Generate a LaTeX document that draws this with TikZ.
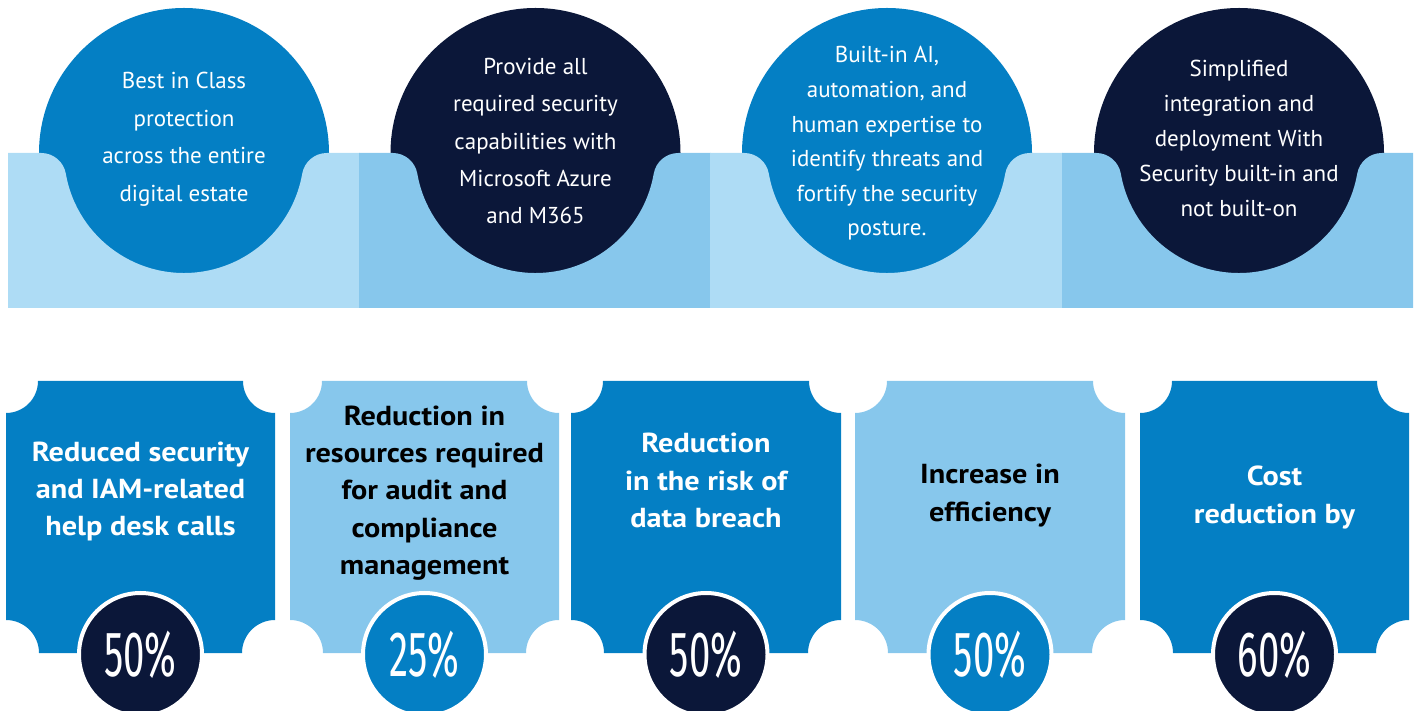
\documentclass[tikz,border=0pt]{standalone}
\usepackage{fontspec}
\setmainfont{PT Sans}
\newfontfamily\pctfont{Fira Sans}
\newfontfamily\boxfont[FakeStretch=1.1]{PT Sans Bold}
\definecolor{cblue}{HTML}{047FC4}
\definecolor{cnavy}{HTML}{0B1739}
\definecolor{clight}{HTML}{AEDCF5}
\definecolor{cmid}{HTML}{87C7EC}
\newcommand\topband[4]{\fill[#4] (#1,402) -- (#1,557) -- ({#3-142.8},557)
  arc[start angle=90,end angle=9.93,radius=25]
  arc[start angle=189.93,end angle=350.07,radius=120]
  arc[start angle=170.07,end angle=90,radius=25] -- (#2,557) -- (#2,402) -- cycle;}
\newcommand\statbox[3]{\fill[#3] (#1,297) -- (#1,90)
  arc[start angle=90,end angle=0,radius=33] -- ({#2-33},57)
  arc[start angle=180,end angle=90,radius=33] -- (#2,297)
  arc[start angle=270,end angle=180,radius=32] -- ({#1+32},329)
  arc[start angle=0,end angle=-90,radius=32] -- cycle;}
\begin{document}
\begin{tikzpicture}[x=1pt,y=1pt,
  topdisc/.style={circle,minimum size=290pt,inner sep=0pt,draw=none},
  toptext/.style={text=white,align=center,font=\fontsize{23}{37.5}\selectfont},
  boxtext/.style={align=center,font=\boxfont\fontsize{27.5}{37.3}\selectfont},
  pctdisc/.style={circle,minimum size=123pt,inner sep=0pt,draw=white,line width=4pt},
  pcttext/.style={text=white,font=\pctfont\fontsize{64}{64}\selectfont}]
\useasboundingbox (0,0) rectangle (1419,710);
% top discs
\node[topdisc,fill=cblue] (d1) at (184,557) {};
\node[topdisc,fill=cnavy] (d2) at (535.5,557) {};
\node[topdisc,fill=cblue] (d3) at (887,557) {};
\node[topdisc,fill=cnavy] (d4) at (1239,557) {};
% bands
\topband{8}{359.5}{184}{clight}
\topband{359}{710.5}{535.5}{cmid}
\topband{710}{1062.5}{887}{clight}
\topband{1062}{1413}{1239}{cmid}
% top texts
\node[toptext] (t1) at (184,570.5) {Best in Class\\protection\\across the entire\\digital estate};
\node[toptext] (t2) at (535.5,569) {Provide all\\required security\\capabilities with\\Microsoft Azure\\and M365};
\node[toptext,font=\fontsize{23}{34.6}\selectfont] (t3) at (887,566.5) {Built-in AI,\\automation, and\\human expertise to\\identify threats and\\fortify the security\\posture.};
\node[toptext,font=\fontsize{23}{35.2}\selectfont] (t4) at (1239,571.5) {Simplified\\integration and\\deployment With\\Security built-in and\\not built-on};
% bottom boxes
\statbox{6}{275}{cblue}
\statbox{290}{559}{cmid}
\statbox{571}{841}{cblue}
\statbox{855}{1125}{cmid}
\statbox{1140}{1409}{cblue}
\node[boxtext,text=white] (b1) at (140.5,218.5) {Reduced security\\and IAM-related\\help desk calls};
\node[boxtext,text=black] (b2) at (424.5,217) {Reduction in\\resources required\\for audit and\\compliance\\management};
\node[boxtext,text=white] (b3) at (706,229.5) {Reduction\\in the risk of\\data breach};
\node[boxtext,text=black] (b4) at (990,214.5) {Increase in\\efficiency};
\node[boxtext,text=white] (b5) at (1274.5,212.5) {Cost\\reduction by};
% percent discs
\node[pctdisc,fill=cnavy] (p1) at (140.5,55.5) {};
\node[pctdisc,fill=cblue] (p2) at (424.5,55.5) {};
\node[pctdisc,fill=cnavy] (p3) at (706,55.5) {};
\node[pctdisc,fill=cblue] (p4) at (990,55.5) {};
\node[pctdisc,fill=cnavy] (p5) at (1274.5,55.5) {};
\node[pcttext] (q1) at (p1.center) {\scalebox{0.6}[1]{50\%}};
\node[pcttext] (q2) at (p2.center) {\scalebox{0.6}[1]{25\%}};
\node[pcttext] (q3) at (p3.center) {\scalebox{0.6}[1]{50\%}};
\node[pcttext] (q4) at (p4.center) {\scalebox{0.6}[1]{50\%}};
\node[pcttext] (q5) at (p5.center) {\scalebox{0.6}[1]{60\%}};
\end{tikzpicture}
\end{document}
